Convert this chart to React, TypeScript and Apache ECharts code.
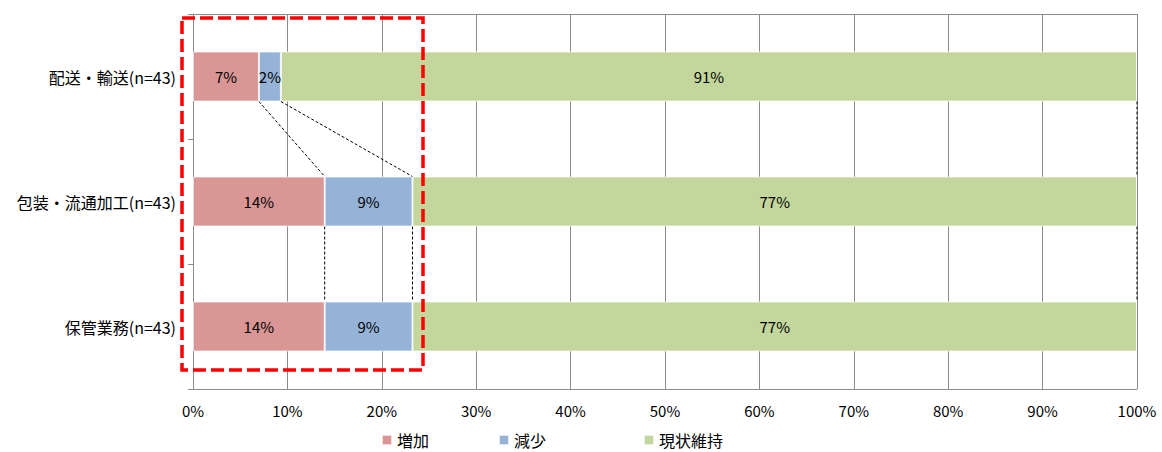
import React, { useEffect, useRef } from "react";
import * as echarts from "echarts";

// Share of responses per business area (n=43 each), in percent
const categories = ["配送・輸送(n=43)", "包装・流通加工(n=43)", "保管業務(n=43)"];
const increase = [6.98, 13.95, 13.95];
const decrease = [2.33, 9.3, 9.3];
const maintain = [90.69, 76.75, 76.75];
const seriesNames = ["増加", "減少", "現状維持"];
const colors = ["#D99694", "#95B3D7", "#C3D69B"];
const xTicks = [0, 10, 20, 30, 40, 50, 60, 70, 80, 90, 100];

const FONT = "'Noto Sans CJK JP', 'Noto Sans', sans-serif";
const GRID_COLOR = "#8c8c8c";
const BAR_RATIO = 0.4;

export default function App() {
  const ref = useRef<HTMLDivElement>(null);

  useEffect(() => {
    if (!ref.current) return;
    const chart = echarts.init(ref.current, null, { renderer: "svg" });

    const values = [increase, decrease, maintain];

    // connector ("series line") segments between cumulative boundaries of adjacent bars
    const connectors: number[][] = [];
    for (let i = 0; i < categories.length - 1; i++) {
      let cumA = 0;
      let cumB = 0;
      for (let s = 0; s < values.length; s++) {
        cumA += values[s][i];
        cumB += values[s][i + 1];
        connectors.push([cumA, i, cumB, i + 1]);
      }
    }

    const barSeries = seriesNames.map((name, s) => ({
      name,
      type: "bar",
      stack: "total",
      barWidth: `${BAR_RATIO * 100}%`,
      data: values[s],
      itemStyle: {
        color: colors[s],
        borderColor: "rgba(255,255,255,0.7)",
        borderWidth: 1,
      },
      label: {
        show: true,
        position: "inside",
        color: "#000",
        fontFamily: FONT,
        fontSize: 15,
        formatter: (p: any) => `${Math.round(p.value)}%`,
      },
    }));

    const legendLefts = [381, 498, 643];

    chart.setOption({
      animation: false,
      textStyle: { fontFamily: FONT },
      grid: { left: 193, right: 25, top: 14, bottom: 63 },
      legend: seriesNames.map((name, s) => ({
        data: [name],
        left: legendLefts[s],
        top: 432,
        padding: 0,
        itemWidth: 10,
        itemHeight: 10,
        icon: "rect",
        itemGap: 4,
        textStyle: { fontFamily: FONT, fontSize: 16, lineHeight: 16, color: "#000" },
        selectedMode: false,
      })),
      xAxis: [
        {
          type: "value",
          min: 0,
          max: 100,
          interval: 10,
          position: "bottom",
          axisLine: { show: true, lineStyle: { color: GRID_COLOR } },
          axisTick: { show: false },
          splitLine: { show: true, lineStyle: { color: GRID_COLOR, width: 1 } },
          axisLabel: {
            color: "#000",
            fontSize: 15,
            fontFamily: FONT,
            margin: 14,
            formatter: (v: number) => (xTicks.includes(v) ? `${v}%` : ""),
          },
        },
        {
          type: "value",
          min: 0,
          max: 100,
          position: "top",
          axisLine: { show: true, lineStyle: { color: GRID_COLOR } },
          axisTick: { show: false },
          axisLabel: { show: false },
          splitLine: { show: false },
        },
      ],
      yAxis: {
        type: "category",
        inverse: true,
        data: categories,
        axisLine: { show: true, lineStyle: { color: GRID_COLOR } },
        axisTick: { show: true, length: 5, lineStyle: { color: GRID_COLOR } },
        axisLabel: { color: "#000", fontSize: 16, fontFamily: FONT, margin: 17 },
        splitLine: { show: false },
      },
      series: [
        ...barSeries,
        {
          type: "custom",
          name: "connectors",
          silent: true,
          z: 5,
          encode: { x: [0, 2], y: [1, 3] },
          data: connectors,
          renderItem: (_params: any, api: any) => {
            const band = api.size([0, 1])[1];
            const half = (band * BAR_RATIO) / 2;
            const p1 = api.coord([api.value(0), api.value(1)]);
            const p2 = api.coord([api.value(2), api.value(3)]);
            return {
              type: "line",
              shape: { x1: p1[0], y1: p1[1] + half, x2: p2[0], y2: p2[1] - half },
              style: { stroke: "#000", lineWidth: 1, lineDash: [3, 2] },
            };
          },
        },
      ],
      graphic: [
        {
          type: "rect",
          z: 100,
          shape: { x: 182, y: 18, width: 241, height: 352 },
          style: { fill: "none", stroke: "#FF0000", lineWidth: 3.5, lineDash: [13, 5] },
        },
      ],
    });

    return () => chart.dispose();
  }, []);

  return (
    <div
      ref={ref}
      style={{ position: "fixed", left: 0, top: 0, width: 1162, height: 452, background: "#fff" }}
    />
  );
}
